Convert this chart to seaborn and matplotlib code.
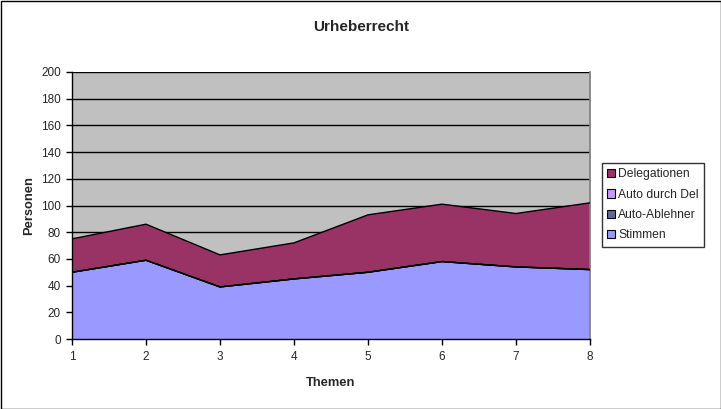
import matplotlib
matplotlib.use("Agg")
import matplotlib.pyplot as plt
import seaborn as sns
import numpy as np
import pandas as pd
from matplotlib.patches import Patch, Rectangle

themen = [1, 2, 3, 4, 5, 6, 7, 8]
stimmen = [50, 59, 39, 45, 50, 58, 54, 52]
auto_ablehner = [0, 0, 0, 0, 0, 0, 0, 0]
auto_durch_del = [0, 0, 0, 0, 0, 0, 0, 0]
delegationen = [25, 27, 24, 27, 43, 43, 40, 50]

series_names = ["Stimmen", "Auto-Ablehner", "Auto durch Del", "Delegationen"]
colors = ["#9999FF", "#666699", "#CC99FF", "#993366"]

sns.set_theme(style="white")
plt.rcParams['font.family'] = ['Liberation Sans', 'DejaVu Sans']

fig = plt.figure(figsize=(7.21, 4.09), dpi=100)
ax = fig.add_axes([72/721, 1 - 339/409, (590 - 72)/721, (339 - 72)/409])
ax.set_facecolor("#C0C0C0")

ys = [stimmen, auto_ablehner, auto_durch_del, delegationen]
ax.stackplot(themen, *ys, colors=colors, edgecolor="none", zorder=2)

# boundary lines via seaborn
cum = np.cumsum(np.array(ys, dtype=float), axis=0)
df = pd.DataFrame({"x": themen * 4,
                   "y": cum.flatten(),
                   "s": np.repeat(series_names, len(themen))})
sns.lineplot(data=df, x="x", y="y", units="s", estimator=None, color="black",
             linewidth=1, ax=ax, zorder=3, legend=False)

ax.set_xlim(1, 8)
ax.set_ylim(0, 200)
ax.set_yticks(range(0, 201, 20))
ax.set_xticks(themen)
ax.yaxis.grid(True, color="black", linewidth=1)
ax.set_axisbelow(True)
for g in ax.get_ygridlines():
    g.set_zorder(1)

for s in ["left", "bottom"]:
    ax.spines[s].set_color("black")
    ax.spines[s].set_linewidth(1)
ax.spines["top"].set_visible(False)
ax.spines["right"].set_color("#808080")
ax.spines["left"].set_zorder(4)
ax.spines["bottom"].set_zorder(4)

ax.tick_params(axis="both", which="both", direction="out", length=4, width=1,
               color="black", labelsize=8.5, left=True, bottom=True)
ax.tick_params(axis="x", pad=5)
ax.tick_params(axis="y", pad=4)
ax.set_xlabel("Themen", fontsize=9.3, fontweight="bold", labelpad=10)
ax.set_ylabel("Personen", fontsize=9.3, fontweight="bold", labelpad=4)

fig.text(361/721, 1 - 27/409, "Urheberrecht", ha="center", va="center",
         fontsize=11, fontweight="bold")

handles = [Patch(facecolor=colors[i], edgecolor="black", linewidth=0.8, label=series_names[i])
           for i in [3, 2, 1, 0]]
leg = fig.legend(handles=handles, loc="upper left", bbox_to_anchor=(602/721, 1 - 163/409),
                 frameon=True, fontsize=8.75, handlelength=0.65, handleheight=0.65,
                 handletextpad=0.25, labelspacing=0.68, borderpad=0.45,
                 borderaxespad=0, fancybox=False)
leg.get_frame().set_edgecolor("black")
leg.get_frame().set_linewidth(1)
leg.get_frame().set_facecolor("white")

fig.patches.append(Rectangle((0.5/721, 0.5/409), 1 - 1/721, 1 - 1/409, transform=fig.transFigure,
                             fill=False, edgecolor="black", linewidth=1))

fig.savefig("out.png", dpi=100, facecolor="white")
